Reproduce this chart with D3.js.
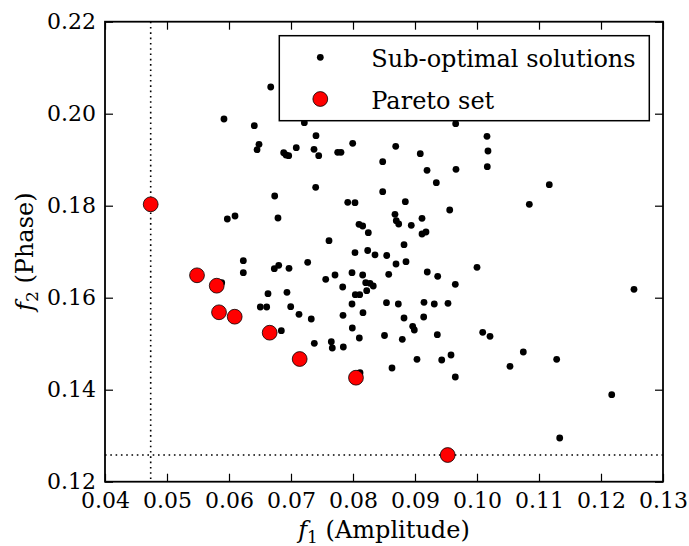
<!DOCTYPE html>
<html>
<head>
<meta charset="utf-8">
<script src="https://cdn.jsdelivr.net/npm/d3@7"></script>
<style>
  body { margin: 0; background: #fff; }
  text { font-family: "DejaVu Serif", serif; }
</style>
</head>
<body>
<svg id="chart"></svg>
<script>
// sub-optimal solutions (f1 = amplitude, f2 = phase)
var subF1 = [
  0.06673, 0.05919, 0.06408, 0.07215, 0.07403, 0.06484, 0.06452, 0.06882, 0.06919, 0.06963,
  0.07085, 0.07371, 0.07447, 0.07753, 0.07806, 0.07995, 0.08479, 0.07398, 0.06737, 0.08479,
  0.07915, 0.08032, 0.05973, 0.06097, 0.06790, 0.08097, 0.08156, 0.08247, 0.07613, 0.08032,
  0.08237, 0.08355, 0.08544, 0.09656, 0.10161, 0.10177, 0.10166, 0.08689, 0.09085, 0.09194,
  0.09661, 0.09344, 0.11166, 0.08844, 0.10844, 0.09560, 0.08677, 0.08698, 0.08737, 0.08940,
  0.09113, 0.09113, 0.09177, 0.08823, 0.06231, 0.06231, 0.06802, 0.06731, 0.06968, 0.07269,
  0.07560, 0.07710, 0.07984, 0.08156, 0.08576, 0.07834, 0.08205, 0.08274, 0.08327, 0.08221,
  0.08037, 0.08108, 0.06629, 0.06935, 0.07984, 0.08540, 0.06505, 0.06608, 0.06995, 0.07129,
  0.07327, 0.07839, 0.08161, 0.07989, 0.08102, 0.08508, 0.06844, 0.07376, 0.07650, 0.07666,
  0.07844, 0.08113, 0.05882, 0.08694, 0.08855, 0.09198, 0.09366, 0.09650, 0.10000, 0.12532,
  0.08731, 0.09145, 0.09311, 0.09532, 0.08823, 0.09140, 0.08963, 0.08989, 0.08795, 0.09360,
  0.10092, 0.10210, 0.09032, 0.09431, 0.09581, 0.08629, 0.09650, 0.10532, 0.10747, 0.11285,
  0.12173, 0.11334
];
var subF2 = [
  0.20580, 0.19885, 0.19739, 0.19804, 0.19522, 0.19335, 0.19217, 0.19152, 0.19102, 0.19087,
  0.19261, 0.19226, 0.19087, 0.19161, 0.19161, 0.19357, 0.18957, 0.18400, 0.18211, 0.18304,
  0.18074, 0.18065, 0.17711, 0.17776, 0.17733, 0.17596, 0.17559, 0.17413, 0.17239, 0.16978,
  0.17026, 0.16933, 0.16917, 0.19783, 0.19509, 0.19189, 0.18848, 0.19291, 0.19130, 0.18770,
  0.18791, 0.18500, 0.18457, 0.18087, 0.18030, 0.17907, 0.17813, 0.17674, 0.17602, 0.17574,
  0.17726, 0.17385, 0.17428, 0.17152, 0.16804, 0.16543, 0.16704, 0.16630, 0.16639, 0.16770,
  0.16400, 0.16493, 0.16543, 0.16493, 0.16509, 0.16233, 0.16326, 0.16313, 0.16254, 0.16152,
  0.16065, 0.16065, 0.16087, 0.16117, 0.15863, 0.15891, 0.15798, 0.15798, 0.15804, 0.15639,
  0.15537, 0.15617, 0.15674, 0.15341, 0.15124, 0.15178, 0.15283, 0.15009, 0.15043, 0.14907,
  0.14928, 0.14370, 0.16326, 0.16733, 0.16783, 0.16559, 0.16465, 0.16291, 0.16661, 0.16183,
  0.15863, 0.15900, 0.15863, 0.15878, 0.15559, 0.15580, 0.15378, 0.15298, 0.15096, 0.15196,
  0.15248, 0.15161, 0.14661, 0.14646, 0.14754, 0.14472, 0.14276, 0.14509, 0.14820, 0.14661,
  0.13891, 0.12950
];

// pareto set
var paretoF1 = [0.04737, 0.05484, 0.05802, 0.05839, 0.06092, 0.06656, 0.07140, 0.08048, 0.09527];
var paretoF2 = [0.18030, 0.16487, 0.16261, 0.15683, 0.15587, 0.15239, 0.14667, 0.14261, 0.12580];

var xTicks = [0.04, 0.05, 0.06, 0.07, 0.08, 0.09, 0.10, 0.11, 0.12, 0.13];
var yTicks = [0.12, 0.14, 0.16, 0.18, 0.20, 0.22];

var legendLabels = ["Sub-optimal solutions", "Pareto set"];

var width = 689, height = 546;
var margin = { left: 105, right: 26, top: 21.7, bottom: 64.3 };
var w = width - margin.left - margin.right;
var h = height - margin.top - margin.bottom;

var svg = d3.select("#chart").attr("width", width).attr("height", height);
var g = svg.append("g").attr("transform", "translate(" + margin.left + "," + margin.top + ")");

var x = d3.scaleLinear().domain([0.04, 0.13]).range([0, w]);
var y = d3.scaleLinear().domain([0.12, 0.22]).range([h, 0]);

var fmt = d3.format(".2f");

// axes, ticks pointing inward on all 4 sides
g.append("g").attr("transform", "translate(0," + h + ")")
  .call(d3.axisBottom(x).tickValues(xTicks).tickFormat(fmt).tickSizeInner(-8).tickSizeOuter(0).tickPadding(11));
g.append("g")
  .call(d3.axisLeft(y).tickValues(yTicks).tickFormat(fmt).tickSizeInner(-8).tickSizeOuter(0).tickPadding(9));
g.append("g")
  .call(d3.axisTop(x).tickValues(xTicks).tickFormat("").tickSizeInner(-8).tickSizeOuter(0));
g.append("g").attr("transform", "translate(" + w + ",0)")
  .call(d3.axisRight(y).tickValues(yTicks).tickFormat("").tickSizeInner(-8).tickSizeOuter(0));

g.selectAll(".domain").remove();
g.selectAll(".tick line").attr("stroke", "#000").attr("stroke-width", 1.2);
g.selectAll(".tick text").attr("fill", "#000").style("font-size", "22px");

// dotted lines at the min of each objective
var minF1 = d3.min(paretoF1), minF2 = d3.min(paretoF2);
g.append("line")
  .attr("x1", x(minF1)).attr("x2", x(minF1)).attr("y1", 0).attr("y2", h)
  .attr("stroke", "#000").attr("stroke-width", 1.6).attr("stroke-dasharray", "1.6,3.7");
g.append("line")
  .attr("x1", 0).attr("x2", w).attr("y1", y(minF2)).attr("y2", y(minF2))
  .attr("stroke", "#000").attr("stroke-width", 1.6).attr("stroke-dasharray", "1.6,3.7");

// sub-optimal points
g.selectAll("circle.sub")
  .data(subF1)
  .enter()
  .append("circle")
  .attr("class", "sub")
  .attr("cx", function (d) { return x(d); })
  .attr("cy", function (d, i) { return y(subF2[i]); })
  .attr("r", 3.4)
  .attr("fill", "#000");

// pareto points
g.selectAll("circle.pareto")
  .data(paretoF1)
  .enter()
  .append("circle")
  .attr("class", "pareto")
  .attr("cx", function (d) { return x(d); })
  .attr("cy", function (d, i) { return y(paretoF2[i]); })
  .attr("r", 7.4)
  .attr("fill", "#ff0000")
  .attr("stroke", "#000")
  .attr("stroke-width", 0.8);

// frame
g.append("rect")
  .attr("width", w).attr("height", h)
  .attr("fill", "none").attr("stroke", "#000").attr("stroke-width", 1.8);

// legend
var lg = g.append("g").attr("transform", "translate(" + (279.3 - margin.left) + "," + (35.7 - margin.top) + ")");
lg.append("rect")
  .attr("width", 370).attr("height", 85)
  .attr("fill", "#fff").attr("stroke", "#000").attr("stroke-width", 1.5);
lg.append("circle").attr("cx", 41).attr("cy", 21.6).attr("r", 3.4).attr("fill", "#000");
lg.append("circle").attr("cx", 41).attr("cy", 63.3).attr("r", 7.4)
  .attr("fill", "#ff0000").attr("stroke", "#000").attr("stroke-width", 0.8);
lg.selectAll("text.leg")
  .data(legendLabels)
  .enter()
  .append("text")
  .attr("class", "leg")
  .attr("x", 92)
  .attr("y", function (d, i) { return 31 + i * 42; })
  .style("font-size", "24px")
  .text(function (d) { return d; });

// axis labels
var xl = svg.append("text")
  .attr("x", margin.left + w / 2).attr("y", 538)
  .attr("text-anchor", "middle").style("font-size", "24px");
xl.append("tspan").style("font-style", "italic").text("f");
xl.append("tspan").attr("dy", 5).style("font-size", "17px").text("1");
xl.append("tspan").attr("dy", -5).text(" (Amplitude)");

var yl = svg.append("text")
  .attr("transform", "translate(33," + (margin.top + h / 2) + ") rotate(-90)")
  .attr("text-anchor", "middle").style("font-size", "24px");
yl.append("tspan").style("font-style", "italic").text("f");
yl.append("tspan").attr("dy", 5).style("font-size", "17px").text("2");
yl.append("tspan").attr("dy", -5).text(" (Phase)");
</script>
</body>
</html>
